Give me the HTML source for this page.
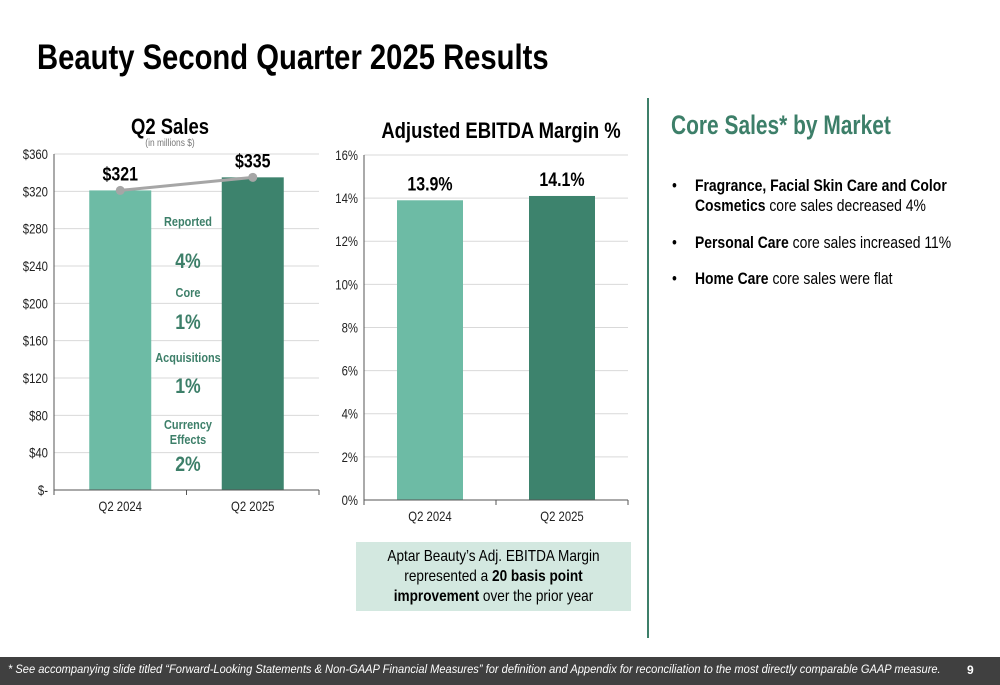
<!DOCTYPE html>
<html><head><meta charset="utf-8"><style>
body{margin:0;width:1000px;height:685px;position:relative;background:#fff;overflow:hidden;font-family:"Liberation Sans",Arial,sans-serif;}
.abs{position:absolute;}
.sq{transform-origin:0 0;}
svg text{font-family:"Liberation Sans",Arial,sans-serif;}
</style></head><body>
<div class="abs sq" style="left:37px;top:38px;font-size:35px;font-weight:bold;color:#000;white-space:nowrap;transform:scaleX(0.835);">Beauty Second Quarter 2025 Results</div>
<div class="abs" style="left:647px;top:98px;width:2px;height:540px;background:#3d7f69;"></div>
<div class="abs sq" style="left:671px;top:110px;font-size:27px;font-weight:bold;color:#3d7f69;white-space:nowrap;transform:scaleX(0.775);">Core Sales* by Market</div>
<div class="abs sq" style="left:672px;top:176px;width:395px;font-size:17px;color:#000;line-height:20px;transform:scaleX(0.82);">
<div style="position:relative;padding-left:28px;"><span style="position:absolute;left:0">•</span><b>Fragrance, Facial Skin Care and Color Cosmetics</b> core sales decreased 4%</div>
<div style="position:relative;padding-left:28px;margin-top:17px;"><span style="position:absolute;left:0">•</span><b>Personal Care</b> core sales increased 11%</div>
<div style="position:relative;padding-left:28px;margin-top:16px;"><span style="position:absolute;left:0">•</span><b>Home Care</b> core sales were flat</div>
</div>
<div class="abs" style="left:356px;top:542px;width:275px;height:69px;background:#d3e8e0;"></div>
<div class="abs" style="left:356px;top:547px;width:275px;text-align:center;font-size:16px;line-height:20px;color:#000;"><div style="transform:scaleX(0.85);white-space:nowrap;">Aptar Beauty’s Adj. EBITDA Margin<br>represented a <b>20 basis point</b><br><b>improvement</b> over the prior year</div></div>
<div class="abs" style="left:0;top:657px;width:1000px;height:28px;background:#404040;"></div>
<div class="abs sq" style="left:8px;top:664px;font-size:11.5px;font-style:italic;color:#fff;white-space:nowrap;transform:scaleX(0.965);">* See accompanying slide titled “Forward-Looking Statements &amp; Non-GAAP Financial Measures” for definition and Appendix for reconciliation to the most directly comparable GAAP measure.</div>
<div class="abs" style="left:967px;top:663px;font-size:12px;font-weight:bold;color:#fff;">9</div>

<svg class="abs" style="left:0;top:0" width="1000" height="685" id="charts">
<text x="170" y="134" text-anchor="middle" font-size="22" font-weight="bold">Q2 Sales</text>
<text x="170" y="146" text-anchor="middle" font-size="10" fill="#777">(in millions $)</text>
<text x="501" y="138" text-anchor="middle" font-size="22" font-weight="bold">Adjusted EBITDA Margin %</text>
<g id="sales"></g><g id="ebitda"></g>
<g fill="#3d7f69" font-weight="bold" text-anchor="middle">
<text x="188" y="226" font-size="13">Reported</text>
<text x="188" y="268" font-size="21">4%</text>
<text x="188" y="297" font-size="13">Core</text>
<text x="188" y="329" font-size="21">1%</text>
<text x="188" y="362" font-size="13">Acquisitions</text>
<text x="188" y="393" font-size="21">1%</text>
<text x="188" y="429" font-size="13">Currency</text>
<text x="188" y="444" font-size="13">Effects</text>
<text x="188" y="471" font-size="21">2%</text>
</g>
</svg>
<script>
const categories=["Q2 2024","Q2 2025"];
const salesValues=[321,335];
const salesLabels=["$321","$335"];
const salesTicks=[0,40,80,120,160,200,240,280,320,360];
const salesTickLabels=["$-","$40","$80","$120","$160","$200","$240","$280","$320","$360"];
const ebitdaValues=[13.9,14.1];
const ebitdaLabels=["13.9%","14.1%"];
const ebitdaTicks=[0,2,4,6,8,10,12,14,16];
const ebitdaTickLabels=["0%","2%","4%","6%","8%","10%","12%","14%","16%"];
const colors=["#6dbba5","#3d836d"];
const NS="http://www.w3.org/2000/svg";
function mk(p,t,a){const e=document.createElementNS(NS,t);for(const k in a)e.setAttribute(k,a[k]);p.appendChild(e);return e;}
function chart(g,o){
 const y=v=>o.bottom-(v-o.min)/(o.max-o.min)*(o.bottom-o.top);
 const band=(o.right-o.left)/categories.length;
 const x=i=>o.left+band*(i+0.5);
 o.ticks.forEach((t,i)=>{
  const gl=mk(g,'line',{x1:o.left,x2:o.right,y1:y(t),y2:y(t),stroke:'#d9d9d9','stroke-width':1});
  
  const tl=mk(g,'text',{x:o.left-6,y:y(t)+5,'text-anchor':'end','font-size':13.5,fill:'#222'});tl.textContent=o.tickLabels[i];
  
 });
 o.vals.forEach((v,i)=>{
  const r=mk(g,'rect',{x:x(i)-o.bw/2,y:y(v),width:o.bw,height:o.bottom-y(v),fill:colors[i]});
  
  const cl=mk(g,'text',{x:x(i),y:o.bottom+21,'text-anchor':'middle','font-size':13.5,fill:'#222'});cl.textContent=categories[i];
  
 });
 const ax=mk(g,'line',{x1:o.left,x2:o.left,y1:o.top,y2:o.bottom,stroke:'#555'});
 const xa=mk(g,'line',{x1:o.left,x2:o.right,y1:o.bottom,y2:o.bottom,stroke:'#555'});
 [0,1,2].forEach(i=>{const tk=mk(g,'line',{x1:o.left+band*i,x2:o.left+band*i,y1:o.bottom,y2:o.bottom+5,stroke:'#555'});});
 if(o.line){
  const pl=mk(g,'polyline',{points:o.vals.map((v,i)=>x(i)+','+y(v)).join(' '),fill:'none',stroke:'#a6a6a6','stroke-width':3});
  
  o.vals.forEach((v,i)=>{const c=mk(g,'circle',{cx:x(i),cy:y(v),r:4.5,fill:'#a6a6a6'});});
 }
 o.vals.forEach((v,i)=>{
  const t=mk(g,'text',{x:x(i),y:y(v)-o.lblDy,'text-anchor':'middle','font-size':19,'font-weight':'bold'});t.textContent=o.labels[i];
  
 });
}
chart(document.getElementById('sales'),{left:54,right:319,top:154,bottom:490,min:0,max:360,ticks:salesTicks,tickLabels:salesTickLabels,vals:salesValues,labels:salesLabels,bw:62,line:true,lblDy:10});
chart(document.getElementById('ebitda'),{left:364,right:628,top:155,bottom:500,min:0,max:16,ticks:ebitdaTicks,tickLabels:ebitdaTickLabels,vals:ebitdaValues,labels:ebitdaLabels,bw:66,line:false,lblDy:10});
document.querySelectorAll('#charts text').forEach(t=>{const x=+t.getAttribute('x');const s=0.84;t.setAttribute('transform','translate('+(x*(1-s))+',0) scale('+s+',1)');});
</script>
</body></html>
